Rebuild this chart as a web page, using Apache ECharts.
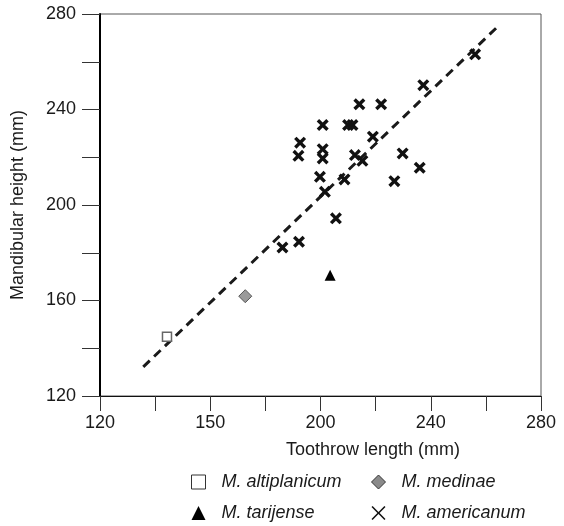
<!DOCTYPE html>
<html>
<head>
<meta charset="utf-8">
<script src="https://cdn.jsdelivr.net/npm/echarts@6/dist/echarts.min.js"></script>
<style>
    html,body{margin:0;padding:0;background:#fff;}
    #chart{width:564px;height:526px;}
</style>
</head>
<body>
<div id="chart"></div>
<script>
    // values (toothrow length, mandibular height), mm
    var altiplanicumX = [144.3];
    var altiplanicumY = [144.8];
    var medinaeX = [172.7];
    var medinaeY = [161.8];
    var tarijenseX = [203.5];
    var tarijenseY = [170.6];
    var americanumX = [256.1, 237.3, 214.1, 222.0, 200.8, 210.0, 211.6, 219.0, 192.6, 192.0, 200.8, 200.8,
                       212.5, 215.2, 229.8, 236.0, 199.8, 208.7, 226.8, 201.6, 205.6, 186.2, 192.2];
    var americanumY = [263.1, 250.2, 242.2, 242.2, 233.5, 233.5, 233.5, 228.6, 226.1, 220.6, 223.4, 219.5,
                       220.9, 218.5, 221.6, 215.6, 211.8, 210.7, 210.0, 205.5, 194.4, 182.2, 184.6];
    var fitLineX = [135.7, 264.0];
    var fitLineY = [132.2, 274.4];
    // the printed x labels (the figure prints "150" at the 160 tick)
    var xTickValues = [120, 160, 200, 240, 280];
    var xTickLabels = ['120', '150', '200', '240', '280'];
    var yTickValues = [120, 160, 200, 240, 280];
    var yTickLabels = ['120', '160', '200', '240', '280'];
    var speciesNames = ['M. altiplanicum', 'M. medinae', 'M. tarijense', 'M. americanum'];

    function pairs(xs, ys){
        var out = [];
        for (var i = 0; i < xs.length; i++) out.push([xs[i], ys[i]]);
        return out;
    }
    function labelFor(values, labels){
        return function(v){
            var i = values.indexOf(v);
            return i >= 0 ? labels[i] : '';
        };
    }

    var boldCross = 'path://M2,0L5,3L8,0L10,2L7,5L10,8L8,10L5,7L2,10L0,8L3,5L0,2Z';
    var thinCross = 'path://M0.8,0L5,4.2L9.2,0L10,0.8L5.8,5L10,9.2L9.2,10L5,5.8L0.8,10L0,9.2L4.2,5L0,0.8Z';

    var chart = echarts.init(document.getElementById('chart'));
    var font = '"Liberation Sans", Arial, Helvetica, sans-serif';
    var legendText = {
        fontFamily: font, fontSize: 18, fontStyle: 'italic', color: '#1a1a1a',
        lineHeight: 20, padding: [0, 0, 0, 11]
    };

    var option = {
        animation: false,
        textStyle: {fontFamily: font},
        grid: {
            left: 100, right: 23, top: 14, bottom: 130,
            show: true, borderColor: '#555', borderWidth: 1
        },
        xAxis: {
            type: 'value', min: 120, max: 280, interval: 20,
            name: 'Toothrow length (mm)', nameLocation: 'middle', nameGap: 45,
            nameTextStyle: {fontFamily: font, fontSize: 18, color: '#1a1a1a', padding: [0, 0, 0, 105]},
            axisLine: {show: true, lineStyle: {color: '#111', width: 1}},
            axisTick: {show: true, inside: false, length: 15, lineStyle: {color: '#333', width: 1}},
            axisLabel: {
                fontFamily: font, fontSize: 18, color: '#1a1a1a', margin: 18,
                formatter: labelFor(xTickValues, xTickLabels)
            },
            splitLine: {show: false}
        },
        yAxis: {
            type: 'value', min: 120, max: 280, interval: 20,
            name: 'Mandibular height (mm)', nameLocation: 'middle', nameGap: 73,
            nameTextStyle: {fontFamily: font, fontSize: 18, color: '#1a1a1a'},
            axisLine: {show: true, lineStyle: {color: '#000', width: 2}},
            axisTick: {show: true, inside: false, length: 18, lineStyle: {color: '#333', width: 1}},
            axisLabel: {
                fontFamily: font, fontSize: 18, color: '#1a1a1a', margin: 24,
                formatter: labelFor(yTickValues, yTickLabels)
            },
            splitLine: {show: false}
        },
        legend: [
            {
                orient: 'vertical', left: 191, top: 472, padding: 0, itemGap: 11,
                itemWidth: 14, itemHeight: 14, selectedMode: false,
                textStyle: legendText,
                data: [
                    {name: speciesNames[0], icon: 'rect', itemStyle: {color: '#fff', borderColor: '#333', borderWidth: 1}},
                    {name: speciesNames[2], icon: 'triangle', itemStyle: {color: '#000', borderWidth: 0}}
                ]
            },
            {
                orient: 'vertical', left: 371, top: 472, padding: 0, itemGap: 11,
                itemWidth: 14, itemHeight: 14, selectedMode: false,
                textStyle: legendText,
                data: [
                    {name: speciesNames[1], icon: 'diamond', itemStyle: {color: '#8a8a8a', borderColor: '#333', borderWidth: 1}},
                    {name: speciesNames[3], icon: thinCross, itemStyle: {color: '#111', borderWidth: 0}}
                ]
            }
        ],
        series: [
            {
                name: 'fit', type: 'line', silent: true, showSymbol: false, symbol: 'none', z: 1,
                lineStyle: {color: '#1a1a1a', width: 3, type: [9, 6]},
                data: pairs(fitLineX, fitLineY)
            },
            {
                name: speciesNames[0], type: 'scatter', symbol: 'rect', symbolSize: 9, z: 3,
                itemStyle: {color: '#fff', borderColor: '#666', borderWidth: 1.5, opacity: 1},
                data: pairs(altiplanicumX, altiplanicumY)
            },
            {
                name: speciesNames[1], type: 'scatter', symbol: 'diamond', symbolSize: 13, z: 3,
                itemStyle: {color: '#9a9a9a', borderColor: '#555', borderWidth: 1, opacity: 1},
                data: pairs(medinaeX, medinaeY)
            },
            {
                name: speciesNames[2], type: 'scatter', symbol: 'triangle', symbolSize: 11, z: 3,
                itemStyle: {color: '#000', opacity: 1},
                data: pairs(tarijenseX, tarijenseY)
            },
            {
                name: speciesNames[3], type: 'scatter', symbol: boldCross, symbolSize: 12, z: 3,
                itemStyle: {color: '#111', opacity: 1},
                data: pairs(americanumX, americanumY)
            }
        ]
    };
    chart.setOption(option);
    window.addEventListener('resize', chart.resize);
</script>
</body>
</html>
